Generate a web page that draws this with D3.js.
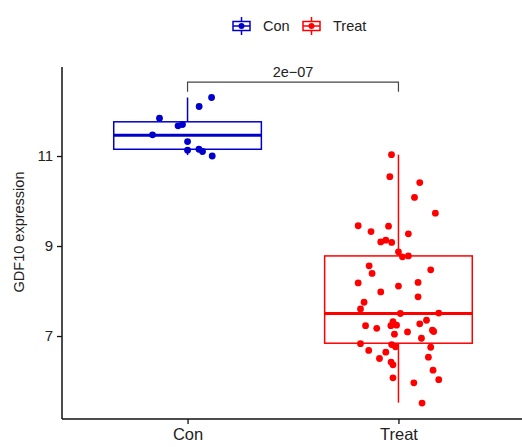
<!DOCTYPE html>
<html>
<head>
<meta charset="utf-8">
<script src="https://cdn.jsdelivr.net/npm/d3@7"></script>
<style>
  body { margin: 0; background: #fff; }
  text { font-family: "Liberation Sans", Arial, sans-serif; }
</style>
</head>
<body>
<div id="container"></div>
<script>
/* DATA */
const groups = ["Con", "Treat"];
const colors = ["#0000cd", "#ff0000"];

// GDF10 expression per sample, with the jitter offset (in category units)
const conValues = [12.30, 12.10, 11.84, 11.67, 11.70, 11.47, 11.32, 11.13, 11.15, 11.10, 11.00];
const conJitter = [0.114, 0.055, -0.133, -0.045, -0.024, -0.166, 0.000, 0.000, 0.054, 0.071, 0.117];

const treatValues = [11.03, 10.54, 10.41, 10.08, 9.73, 9.45, 9.32, 9.44, 9.27, 9.09,
  9.13, 9.08, 8.87, 8.76, 8.78, 8.56, 8.39, 8.47, 8.18, 8.19,
  8.11, 7.98, 7.87, 7.75, 7.60, 7.50, 7.51, 7.23, 7.17, 7.23,
  7.32, 7.24, 7.27, 7.35, 7.13, 7.10, 7.04, 7.09, 6.95, 6.83,
  6.81, 6.76, 6.75, 6.68, 6.64, 6.50, 6.53, 6.42, 6.36, 6.24,
  6.07, 6.03, 5.96, 5.51];
const treatJitter = [-0.033, -0.041, 0.101, 0.076, 0.175, -0.191, -0.130, -0.047, 0.047, -0.084,
  -0.060, -0.032, 0.000, 0.019, 0.047, -0.139, -0.125, 0.153, -0.191, 0.093,
  0.000, -0.084, 0.093, -0.163, -0.180, 0.009, 0.191, -0.156, -0.103, -0.036,
  -0.026, -0.009, 0.101, 0.133, 0.161, 0.167, -0.019, 0.043, 0.109, -0.180,
  -0.032, -0.014, 0.153, -0.141, -0.060, -0.090, 0.142, -0.035, -0.026, 0.164,
  -0.026, 0.191, 0.073, 0.112];

// box statistics
const boxLower  = [11.02, 5.52];
const boxQ1     = [11.15, 6.84];
const boxMedian = [11.46, 7.50];
const boxQ3     = [11.76, 8.78];
const boxUpper  = [12.30, 11.03];

const yTicks = [7, 9, 11];
const pLabel = "2e\u221207";
const bracketY = 12.64, bracketTip = 12.43;

/* LAYOUT */
const width = 522, height = 447;
const panel = { left: 62, right: 525, top: 67, bottom: 419 };

const svg = d3.select("#container").append("svg")
  .attr("width", width).attr("height", height);

/* SCALES */
const x = d3.scalePoint().domain(groups).range([panel.left - 1, panel.right]).padding(0.6);
const step = x.step();
const y = d3.scaleLinear().domain([5.156, 12.978]).range([panel.bottom, panel.top]);
const color = d3.scaleOrdinal().domain(groups).range(colors);

const boxes = groups.map((g, i) => ({
  g, lower: boxLower[i], q1: boxQ1[i], median: boxMedian[i], q3: boxQ3[i], upper: boxUpper[i]
}));
const points = [
  ...conValues.map((v, i) => ({ g: "Con", v, j: conJitter[i] })),
  ...treatValues.map((v, i) => ({ g: "Treat", v, j: treatJitter[i] }))
];

/* BOXPLOTS */
const boxW = 0.7 * step;
const bg = svg.append("g").selectAll("g").data(boxes).join("g");
bg.append("line")
  .attr("x1", d => x(d.g)).attr("x2", d => x(d.g))
  .attr("y1", d => y(d.upper)).attr("y2", d => y(d.q3))
  .attr("stroke", d => color(d.g)).attr("stroke-width", 1.5);
bg.append("line")
  .attr("x1", d => x(d.g)).attr("x2", d => x(d.g))
  .attr("y1", d => y(d.q1)).attr("y2", d => y(d.lower))
  .attr("stroke", d => color(d.g)).attr("stroke-width", 1.5);
bg.append("rect")
  .attr("x", d => x(d.g) - boxW / 2).attr("width", boxW)
  .attr("y", d => y(d.q3)).attr("height", d => y(d.q1) - y(d.q3))
  .attr("fill", "none").attr("stroke", d => color(d.g)).attr("stroke-width", 1.5);
bg.append("line")
  .attr("x1", d => x(d.g) - boxW / 2).attr("x2", d => x(d.g) + boxW / 2)
  .attr("y1", d => y(d.median)).attr("y2", d => y(d.median))
  .attr("stroke", d => color(d.g)).attr("stroke-width", 3);

/* JITTER POINTS */
svg.append("g").selectAll("circle").data(points).join("circle")
  .attr("cx", d => x(d.g) + d.j * step)
  .attr("cy", d => y(d.v))
  .attr("r", 3.4)
  .attr("fill", d => color(d.g));

/* AXES */
const yAxis = svg.append("g")
  .attr("transform", `translate(${panel.left},0)`)
  .call(d3.axisLeft(y).tickValues(yTicks).tickSize(5).tickPadding(4));
yAxis.select(".domain").attr("d", `M0,${panel.top}V${panel.bottom}`);

const xAxis = svg.append("g")
  .attr("transform", `translate(0,${panel.bottom})`)
  .call(d3.axisBottom(x).tickSize(5).tickPadding(4));
xAxis.select(".domain").attr("d", `M${panel.left},0H${width}`);

[yAxis, xAxis].forEach(a => {
  a.select(".domain").attr("stroke", "#111").attr("stroke-width", 1.5);
  a.selectAll(".tick line").attr("stroke", "#111").attr("stroke-width", 1.3);
});
yAxis.selectAll(".tick text").attr("font-size", 15).attr("fill", "#222");
xAxis.selectAll(".tick text").attr("font-size", 16.5).attr("fill", "#222");

svg.append("text")
  .attr("transform", `translate(24,232) rotate(-90)`)
  .attr("text-anchor", "middle")
  .attr("font-size", 14.5).attr("fill", "#222")
  .text("GDF10 expression");

/* P-VALUE BRACKET */
svg.append("path")
  .attr("d", `M${x("Con")},${y(bracketTip)}V${y(bracketY)}H${x("Treat")}V${y(bracketTip)}`)
  .attr("fill", "none").attr("stroke", "#444").attr("stroke-width", 1.2);
svg.append("text")
  .attr("x", (x("Con") + x("Treat")) / 2).attr("y", y(bracketY) - 5)
  .attr("text-anchor", "middle").attr("font-size", 14.5).attr("fill", "#222")
  .text(pLabel);

/* LEGEND */
const legendX = [233, 303];
const lg = svg.append("g").selectAll("g").data(groups).join("g")
  .attr("transform", (d, i) => `translate(${legendX[i]},26)`);
lg.append("line").attr("x1", 8.5).attr("x2", 8.5).attr("y1", -9).attr("y2", 9)
  .attr("stroke", d => color(d)).attr("stroke-width", 1.5);
lg.append("rect").attr("x", 0).attr("y", -4.5).attr("width", 17).attr("height", 9)
  .attr("fill", "#fff").attr("stroke", d => color(d)).attr("stroke-width", 1.5);
lg.append("line").attr("x1", 0).attr("x2", 17).attr("y1", 0).attr("y2", 0)
  .attr("stroke", d => color(d)).attr("stroke-width", 1.5);
lg.append("circle").attr("cx", 8.5).attr("cy", 0).attr("r", 3)
  .attr("fill", d => color(d));
lg.append("text").attr("x", 30).attr("y", 5)
  .attr("font-size", 14.5).attr("fill", "#222")
  .text(d => d);
</script>
</body>
</html>
